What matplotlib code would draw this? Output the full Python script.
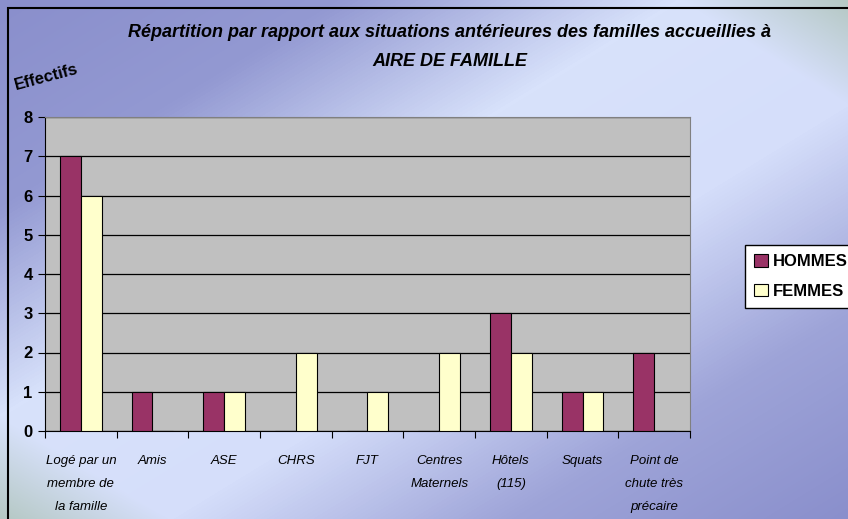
import numpy as np
import matplotlib.pyplot as plt
from matplotlib.colors import LinearSegmentedColormap
from matplotlib.patches import Rectangle

categories = ['Logé par un\nmembre de\nla famille', 'Amis', 'ASE', 'CHRS', 'FJT',
              'Centres\nMaternels', 'Hôtels\n(115)', 'Squats', 'Point de\nchute très\nprécaire']
hommes = [7, 1, 1, 0, 0, 0, 3, 1, 2]
femmes = [6, 0, 1, 2, 1, 2, 2, 1, 0]
yticks = list(range(0, 9))

plt.rcParams['font.family'] = ['Liberation Sans', 'DejaVu Sans']

fig = plt.figure(figsize=(8.48, 5.19), dpi=100)

# gradient background
bg = fig.add_axes([0, 0, 1, 1], zorder=-10)
H, W = 519, 848
yy, xx = np.mgrid[0:H, 0:W]
u = (xx / W + yy / H) / 2.0
v = xx / W - yy / H
cmap = LinearSegmentedColormap.from_list('bg', ['#8a8fcc', '#9399d2', '#d8e2fb', '#d5defa', '#9ea4d8', '#8a8fcc'],)
img = cmap(u)[..., :3]
green = np.array([0.62, 0.72, 0.62])
w = np.clip((np.abs(v) - 0.8) / 0.2, 0, 1)[..., None] * 0.6
img = img * (1 - w) + green * w
bg.imshow(img, aspect='auto', extent=[0, 1, 0, 1], origin='upper')
bg.set_axis_off()
bg.add_patch(Rectangle((8 / W, -0.1), 1.2, 1 - 8 / H + 0.1, transform=bg.transAxes,
                       fill=False, edgecolor='black', linewidth=1.5))

ax = fig.add_axes([45 / W, 1 - 431 / H, 645 / W, 314 / H])
ax.set_facecolor('#c0c0c0')
x = np.arange(len(categories))
bw = 0.29
ax.bar(x - bw / 2, hommes, bw, color='#993366', edgecolor='black', linewidth=0.8, label='HOMMES', zorder=3)
ax.bar(x + bw / 2, femmes, bw, color='#ffffcc', edgecolor='black', linewidth=0.8, label='FEMMES', zorder=3)

ax.set_xlim(-0.5, len(categories) - 0.5)
ax.set_ylim(0, 8)
ax.set_yticks(yticks)
ax.set_yticklabels([str(t) for t in yticks], fontsize=12, fontweight='bold')
ax.yaxis.grid(True, color='black', linewidth=0.9, zorder=1)
ax.set_axisbelow(True)
ax.set_xticks(x)
ax.set_xticklabels(categories, fontsize=9.5, style='italic', linespacing=2.25, va='top')
ax.tick_params(axis='x', length=0, pad=17)
ax.set_xticks(np.arange(-0.5, len(categories), 1), minor=True)
ax.tick_params(axis='x', which='minor', length=5, color='black', width=0.8)
ax.tick_params(axis='y', length=5, width=0.8, pad=4)
for s in ['top', 'right']:
    ax.spines[s].set_color('#808080')
ax.spines['left'].set_color('black')
ax.spines['bottom'].set_color('black')

fig.text(0.53, 0.938, 'Répartition par rapport aux situations antérieures des familles accueillies à',
         ha='center', va='center', fontsize=13, fontweight='bold', style='italic')
fig.text(0.53, 0.882, 'AIRE DE FAMILLE', ha='center', va='center', fontsize=13,
         fontweight='bold', style='italic')
fig.text(0.055, 0.852, 'Effectifs', ha='center', va='center', fontsize=12,
         fontweight='bold', rotation=15)

leg = fig.legend(loc='upper left', bbox_to_anchor=(745 / W, 1 - 245 / H),
                 prop={'family': ['Liberation Sans', 'DejaVu Sans'], 'weight': 'bold', 'size': 12},
                 frameon=True, fancybox=False,
                 edgecolor='black', framealpha=1, handlelength=0.8, handleheight=0.8,
                 handletextpad=0.35, borderpad=0.55, borderaxespad=0, labelspacing=0.85)
leg.get_frame().set_linewidth(1.0)

fig.savefig('out.png', dpi=100)
